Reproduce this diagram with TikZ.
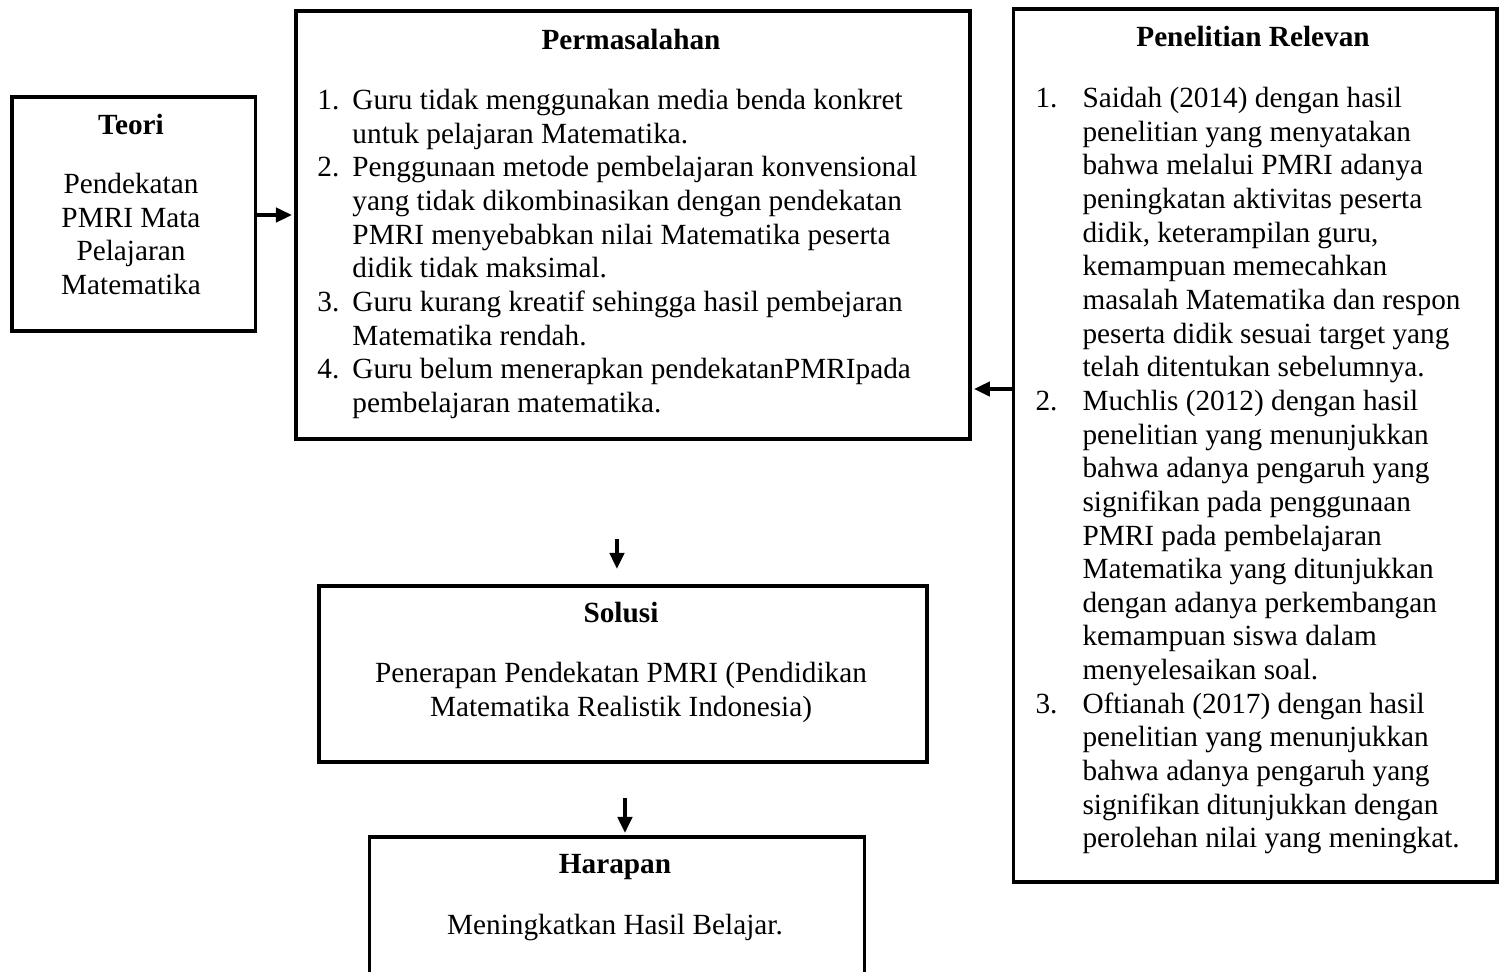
\documentclass[tikz,border=0pt]{standalone}
\usepackage{fontspec}
\setmainfont{Liberation Serif}
\usetikzlibrary{arrows.meta,calc}

\begin{document}
\begin{tikzpicture}[x=0.41pt,y=-0.41pt,
  font=\fontsize{12}{13.8}\selectfont,
  box/.style={draw,line width=1.6pt,inner sep=0pt,anchor=north west},
  title/.style={anchor=base,inner sep=0pt,font=\fontsize{12}{13.8}\selectfont\bfseries},
  txt/.style={inner sep=0pt,anchor=north},
  arr/.style={line width=1.6pt,shorten >=0.8pt,-{Triangle[length=6.6pt,width=5.8pt]}}]
\def\PX{0.41pt}
\clip (0,0) rectangle (1503,971);
% boxes
\node[box,minimum width=243.5*\PX,minimum height=234*\PX] (teori) at (10,95) {};
\node[box,minimum width=674*\PX,minimum height=428*\PX] (masalah) at (294,9) {};
\node[box,minimum width=483.5*\PX,minimum height=873*\PX] (relevan) at (1011.5,7) {};
\node[box,minimum width=608*\PX,minimum height=176*\PX] (solusi) at (317,584) {};
\node[box,minimum width=495*\PX,minimum height=200*\PX] (harapan) at (367.5,835) {};
% teori
\node[title] (teoriT) at (131,134) {Teori};
\node[txt,align=center] (teoriB) at (131,169.4) {\strut Pendekatan\\PMRI Mata\\Pelajaran\\Matematika};
% permasalahan
\node[title] (masalahT) at (631,49) {Permasalahan};
\node[txt,anchor=north west] (masalahB) at (317,85.4) {%
\begin{tabular}{@{}p{14.35pt}@{}l@{}}
1. & Guru tidak menggunakan media benda konkret\\
   & untuk pelajaran Matematika.\\
2. & Penggunaan metode pembelajaran konvensional\\
   & yang tidak dikombinasikan dengan pendekatan\\
   & PMRI menyebabkan nilai Matematika peserta\\
   & didik tidak maksimal.\\
3. & Guru kurang kreatif sehingga hasil pembejaran\\
   & Matematika rendah.\\
4. & Guru belum menerapkan pendekatanPMRIpada\\
   & pembelajaran matematika.
\end{tabular}};
% penelitian relevan
\node[title] (relevanT) at (1253,46) {Penelitian Relevan};
\node[txt,anchor=north west] (relevanB) at (1035,83.4) {%
\begin{tabular}{@{}p{19.3pt}@{}l@{}}
1. & Saidah (2014) dengan hasil\\
   & penelitian yang menyatakan\\
   & bahwa melalui PMRI adanya\\
   & peningkatan aktivitas peserta\\
   & didik, keterampilan guru,\\
   & kemampuan memecahkan\\
   & masalah Matematika dan respon\\
   & peserta didik sesuai target yang\\
   & telah ditentukan sebelumnya.\\
2. & Muchlis (2012) dengan hasil\\
   & penelitian yang menunjukkan\\
   & bahwa adanya pengaruh yang\\
   & signifikan pada penggunaan\\
   & PMRI pada pembelajaran\\
   & Matematika yang ditunjukkan\\
   & dengan adanya perkembangan\\
   & kemampuan siswa dalam\\
   & menyelesaikan soal.\\
3. & Oftianah (2017) dengan hasil\\
   & penelitian yang menunjukkan\\
   & bahwa adanya pengaruh yang\\
   & signifikan ditunjukkan dengan\\
   & perolehan nilai yang meningkat.
\end{tabular}};
% solusi
\node[title] (solusiT) at (621,622) {Solusi};
\node[txt,align=center] (solusiB) at (621,658.4) {\strut Penerapan Pendekatan PMRI (Pendidikan\\Matematika Realistik Indonesia)};
% harapan
\node[title] (harapanT) at (615,873) {Harapan};
\node[txt] (harapanB) at (615,910.4) {\strut Meningkatkan Hasil Belajar.};
% arrows
\coordinate (a1) at (0,215);
\coordinate (a2) at (0,389);
\draw[arr] (teori.east |- a1) -- (masalah.west |- a1);
\draw[arr] (relevan.west |- a2) -- (masalah.east |- a2);
\draw[arr,shorten >=0pt] ($(masalah.south)+(-16,98)$) -- ($(solusi.north)+(-6,-15)$);
\draw[arr] ($(harapan.north)+(8,-37)$) -- (harapan.north -| {$(harapan.north)+(8,0)$});
\end{tikzpicture}
\end{document}
